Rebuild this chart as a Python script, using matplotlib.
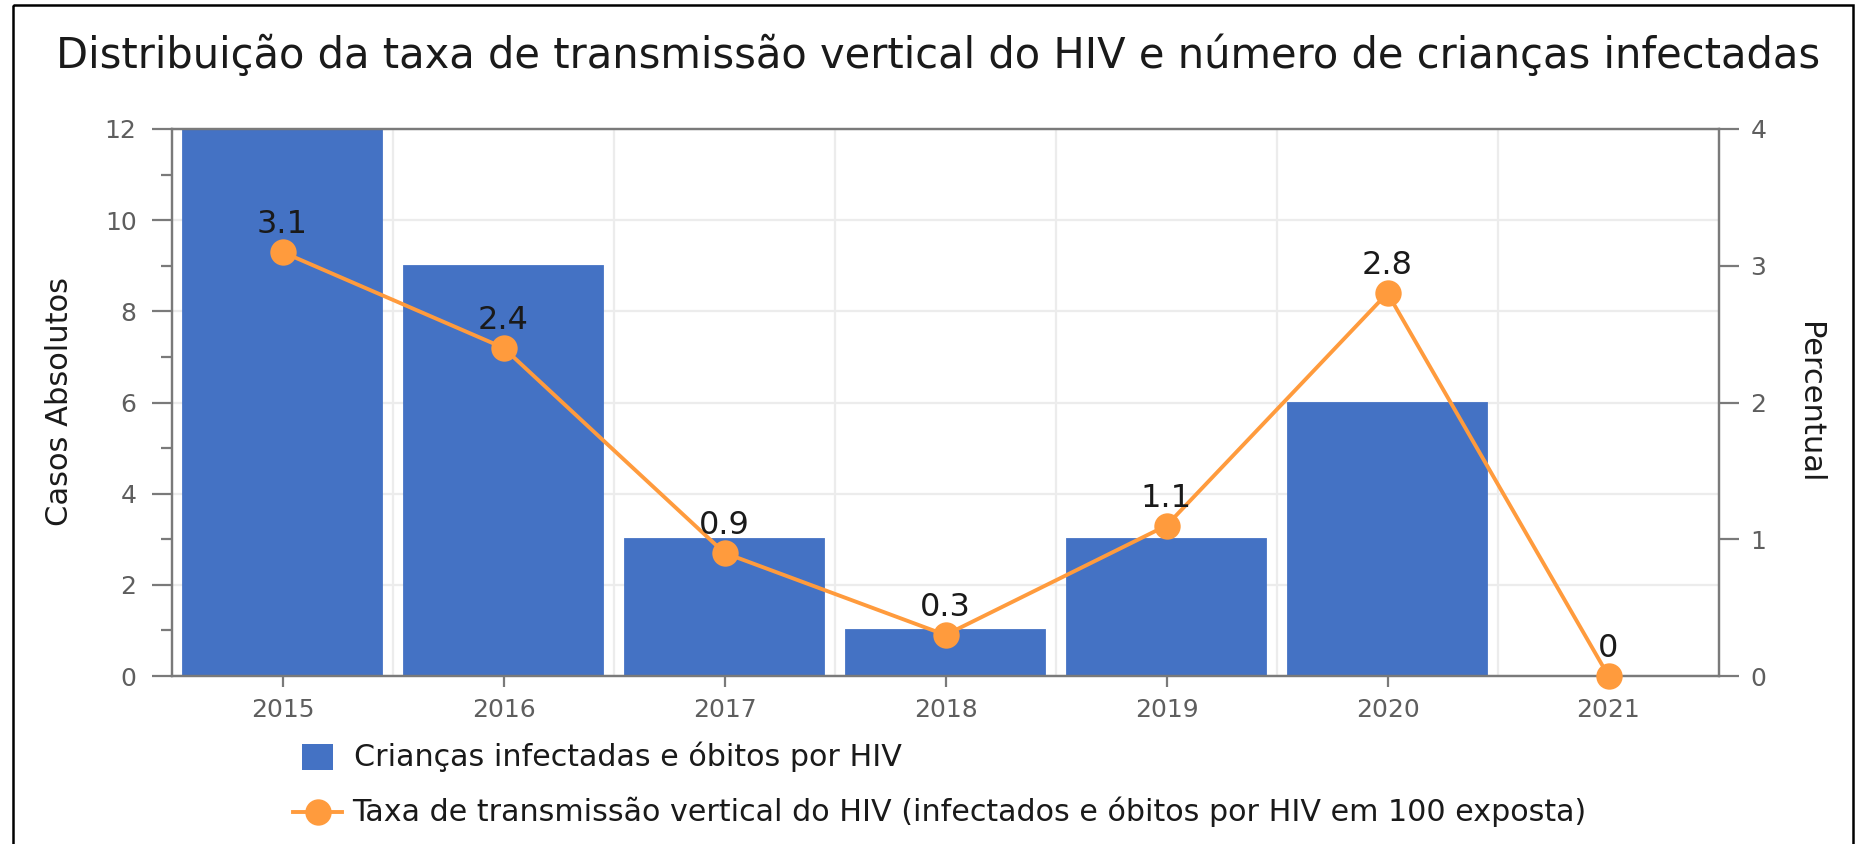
import numpy as np
import matplotlib
matplotlib.use("Agg")
import matplotlib.pyplot as plt
from matplotlib.patches import Rectangle
from matplotlib.lines import Line2D
from matplotlib.transforms import Affine2D
from matplotlib.ticker import MultipleLocator

# ---- data ----
years = ["2015", "2016", "2017", "2018", "2019", "2020", "2021"]
children_infected = [12, 9, 3, 1, 3, 6, 0]
transmission_rate = [3.1, 2.4, 0.9, 0.3, 1.1, 2.8, 0]

title = "Distribuição da taxa de transmissão vertical do HIV e número de crianças infectadas"
left_label = "Casos Absolutos"
right_label = "Percentual"
bar_legend = "Crianças infectadas e óbitos por HIV"
line_legend = "Taxa de transmissão vertical do HIV (infectados e óbitos por HIV em 100 exposta)"

# ---- style ----
BLUE = "#4472C4"
ORANGE = "#FF9B3D"
AXIS_GRAY = "#7a7a7a"
TICK_TEXT = "#5e5e5e"
GRID = "#ececec"
TEXT = "#1a1a1a"

plt.rcParams["font.family"] = ["DejaVu Sans"]

W, H = 1861, 844
fig = plt.figure(figsize=(W / 100, H / 100), dpi=100)
fig.patch.set_facecolor("white")

# pixel coordinates measured from the top-left corner of the figure
px = Affine2D().scale(1 / W, -1 / H).translate(0, 1) + fig.transFigure

ax_left, ax_right, ax_top, ax_bottom = 172, 1719, 129, 676
ax = fig.add_axes([ax_left / W, 1 - ax_bottom / H,
                   (ax_right - ax_left) / W, (ax_bottom - ax_top) / H])

x = np.arange(len(years))
edge = [BLUE if v > 0 else "#a3b7e0" for v in children_infected]
ax.bar(x, children_infected, width=0.9, color=BLUE, edgecolor=edge,
       linewidth=1.3, zorder=2)

ax.set_xlim(-0.5, len(years) - 0.5)
ax.set_ylim(0, 12)
ax.set_xticks(x)
ax.set_xticklabels(years)
ax.set_xticks(x[:-1] + 0.5, minor=True)
ax.yaxis.set_major_locator(MultipleLocator(2))
ax.yaxis.set_minor_locator(MultipleLocator(1))

ax.set_axisbelow(True)
ax.grid(axis="y", which="major", color=GRID, linewidth=1.6)
ax.grid(axis="x", which="minor", color=GRID, linewidth=1.6)

for side in ["left", "right", "top", "bottom"]:
    ax.spines[side].set_color(AXIS_GRAY)
    ax.spines[side].set_linewidth(1.6)

ax.tick_params(axis="y", which="major", direction="out", length=14.5, width=1.6,
               color=AXIS_GRAY, labelsize=18, labelcolor=TICK_TEXT, pad=11)
ax.tick_params(axis="y", which="minor", direction="out", length=8, width=1.6,
               color=AXIS_GRAY)
ax.tick_params(axis="x", which="major", direction="out", length=8, width=1.6,
               color=AXIS_GRAY, labelsize=18, labelcolor=TICK_TEXT, pad=8)
ax.tick_params(axis="x", which="minor", length=0)

# secondary axis for the transmission rate
ax2 = ax.twinx()
ax2.set_ylim(0, 4)
ax2.yaxis.set_major_locator(MultipleLocator(1))
for side in ["left", "right", "top", "bottom"]:
    ax2.spines[side].set_color(AXIS_GRAY)
    ax2.spines[side].set_linewidth(1.6)
ax2.tick_params(axis="y", direction="out", length=14.5, width=1.6,
                color=AXIS_GRAY, labelsize=18, labelcolor=TICK_TEXT, pad=8)

ax2.plot(x, transmission_rate, color=ORANGE, linewidth=2.8, marker="o",
         markersize=19, markeredgewidth=0, clip_on=False, zorder=3)
for xi, v in zip(x, transmission_rate):
    ax2.annotate(f"{v:g}", (xi, v), xytext=(0, 13.5), textcoords="offset points",
                 ha="center", va="baseline", fontsize=23, color=TEXT,
                 annotation_clip=False)

# title and axis titles
fig.text(938, 68, title, transform=px, ha="center", va="baseline",
         fontsize=30, color=TEXT)
fig.text(59, 402, left_label, transform=px, rotation=90, ha="center",
         va="center", fontsize=22, color=TEXT)
fig.text(1810, 403, right_label, transform=px, rotation=270, ha="center",
         va="center", fontsize=22, color=TEXT)

# legend
fig.add_artist(Rectangle((302, 744), 31, 26, transform=px, facecolor=BLUE,
                         edgecolor="none"))
fig.text(354, 757, bar_legend, transform=px, ha="left", va="center",
         fontsize=21.7, color=TEXT)
fig.add_artist(Line2D([293, 342], [812, 812], transform=px, color=ORANGE,
                      linewidth=2.8))
fig.add_artist(Line2D([318], [812], transform=px, color=ORANGE, marker="o",
                      markersize=19, markeredgewidth=0))
fig.text(352, 812, line_legend, transform=px, ha="left", va="center",
         fontsize=21.7, color=TEXT)

# outer frame
fig.add_artist(Rectangle((13, 5), 1840, 860, transform=px, facecolor="none",
                         edgecolor="black", linewidth=1.8))

fig.savefig("out.png", dpi=100)
